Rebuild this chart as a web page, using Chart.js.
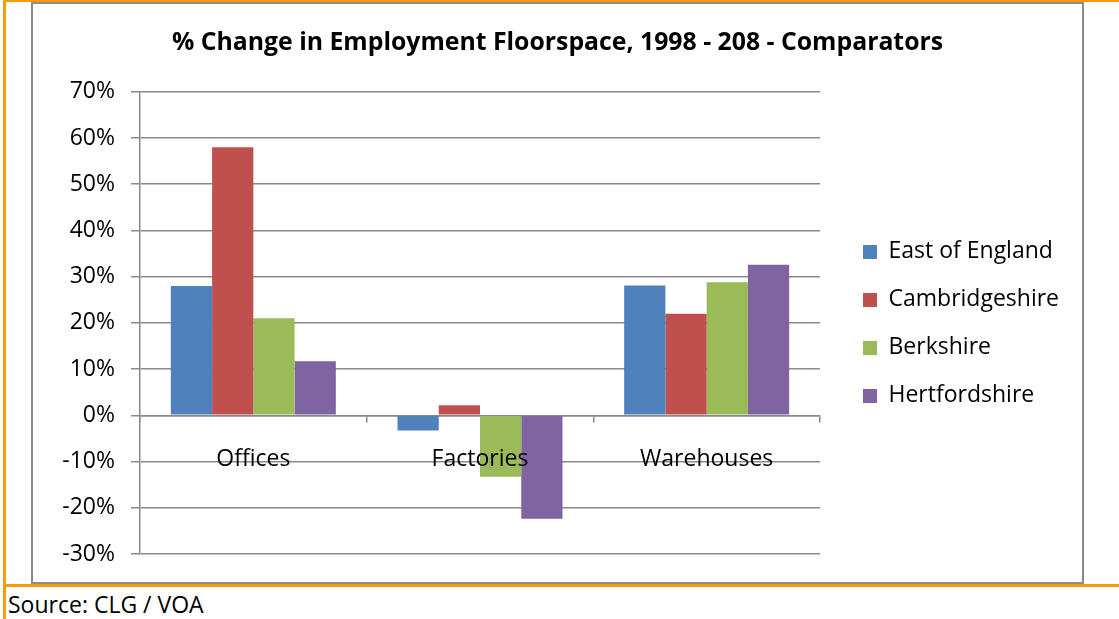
<!DOCTYPE html>
<html>
<head>
<meta charset="utf-8">
<script src="https://cdn.jsdelivr.net/npm/chart.js@4.4.1/dist/chart.umd.min.js"></script>
<style>
  body { margin: 0; background: #fff; font-family: 'Open Sans', sans-serif; }
  #frame { position: absolute; left: 3px; top: 0; width: 1116px; height: 619px;
           border-left: 3px solid #f79b0a; border-top: 2px solid #f79b0a; box-sizing: border-box; }
  #rule { position: absolute; left: 3px; top: 584px; width: 1116px; height: 3px; background: #f79b0a; }
  #box { position: absolute; left: 31px; top: 2px; width: 1049px; height: 578px; border: 2px solid #8c8c8c; background: #fff; }
  #src { position: absolute; left: 8px; top: 588px; font-size: 23px; color: #000; }
</style>
</head>
<body>
<div id="frame"></div>
<div id="rule"></div>
<div id="box"><canvas id="chart" width="1049" height="578"></canvas></div>
<div id="src">Source: CLG / VOA</div>
<script>
// values (percent change)
const categories = ['Offices', 'Factories', 'Warehouses'];
const eastOfEngland = [28, -3.3, 28.1];
const cambridgeshire = [58, 2.2, 22];
const berkshire = [21, -13.3, 28.8];
const hertfordshire = [11.7, -22.4, 32.6];

const seriesNames = ['East of England', 'Cambridgeshire', 'Berkshire', 'Hertfordshire'];
const seriesColors = ['#4f81bd', '#c0504d', '#9bbb59', '#8064a2'];
const yMin = -30, yMax = 70, yStep = 10;

const gridGray = '#8a8a8a';
const fontFamily = "'Open Sans', sans-serif";
Chart.defaults.color = '#000';
Chart.defaults.font.family = fontFamily;

const canvas = document.getElementById('chart');
const ctx = canvas.getContext('2d');

// plot area ends at x=787 in the canvas; legend sits a bit further right
const plotRight = 787, legendGap = 18;
const legendFont = 23, legendPad = 25, legendBox = 14;
ctx.font = legendFont + 'px ' + fontFamily;
const maxText = Math.max(...seriesNames.map(n => ctx.measureText(n).width));
const legendWidth = legendPad + legendBox + legendFont / 2 + maxText + 10;
const padRight = Math.max(0, canvas.width - plotRight - legendWidth);

// move legend right and keep the title centred on the whole box
const nudge = {
  id: 'nudge',
  afterLayout(chart) {
    const lg = chart.legend;
    lg.left += legendGap; lg.right += legendGap;
    lg.top += 1; lg.bottom += 1;
    const tb = chart.titleBlock;
    tb.left += padRight / 2; tb.right += padRight / 2;
  }
};

new Chart(ctx, {
  type: 'bar',
  data: {
    labels: categories,
    datasets: [eastOfEngland, cambridgeshire, berkshire, hertfordshire].map((vals, i) => ({
      label: seriesNames[i],
      data: vals,
      backgroundColor: seriesColors[i],
      borderWidth: 0,
      categoryPercentage: 0.728,
      barPercentage: 1
    }))
  },
  plugins: [nudge],
  options: {
    responsive: false,
    animation: false,
    layout: { padding: { left: 0, right: padRight, top: 0, bottom: 28 } },
    plugins: {
      title: {
        display: true,
        text: '% Change in Employment Floorspace, 1998 - 208 - Comparators',
        font: { size: 24.8, weight: 'bold' },
        padding: { top: 24, bottom: 34 }
      },
      legend: {
        position: 'right',
        fullSize: false,
        labels: { boxWidth: legendBox, boxHeight: legendBox, padding: legendPad, font: { size: legendFont } }
      },
      tooltip: { enabled: false }
    },
    scales: {
      x: {
        position: { y: 0 },
        grid: { drawOnChartArea: false, drawTicks: true, tickLength: 6, color: gridGray, lineWidth: 1.5, offset: true },
        border: { display: true, color: gridGray, width: 1.5 },
        ticks: { z: 1, padding: 24, font: { size: 23 }, color: '#000' }
      },
      y: {
        min: yMin,
        max: yMax,
        grid: { color: gridGray, lineWidth: 1.5, tickLength: 9 },
        border: { display: true, color: gridGray, width: 1.5 },
        ticks: { stepSize: yStep, padding: 16, font: { size: 23 }, color: '#000', callback: v => v + '%' },
        afterFit: s => { s.width = 107; s.paddingTop = 0; s.paddingBottom = 0; }
      }
    }
  }
});
</script>
</body>
</html>
